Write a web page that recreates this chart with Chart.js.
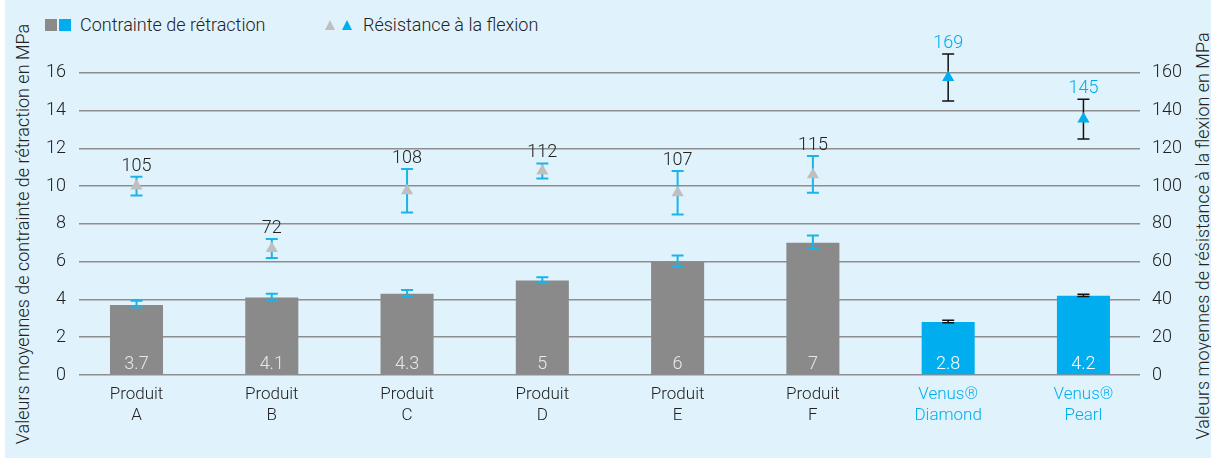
<!DOCTYPE html>
<html>
<head>
<meta charset="utf-8">
<script src="https://cdn.jsdelivr.net/npm/chart.js@4/dist/chart.umd.min.js"></script>
<style>
  html, body { margin: 0; padding: 0; background: #fff; }
  #wrap { position: relative; width: 1211px; height: 462px; overflow: hidden;
          font-family: Roboto, "Liberation Sans", sans-serif; font-weight: 300; color: #222; }
  #panel { position: absolute; left: 5px; top: 0; width: 1206px; height: 458px; background: #e0f2fb; }
  #chart { position: absolute; left: 0; top: 0; }
  .lg { position: absolute; font-size: 18px; line-height: 20px; top: 15px; white-space: nowrap; }
  .sq { position: absolute; width: 12px; height: 12px; top: 19px; }
  .tri { position: absolute; top: 20px; width: 0; height: 0;
         border-left: 5px solid transparent; border-right: 5px solid transparent; border-bottom: 10px solid; }
  .ytitle { position: absolute; font-size: 18px; white-space: nowrap;
            transform: translate(-50%, -50%) rotate(-90deg); }
</style>
</head>
<body>
<div id="wrap">
  <div id="panel"></div>
  <span class="sq" style="left:45px;background:#8a8a8a"></span>
  <span class="sq" style="left:59px;background:#00aeef"></span>
  <span class="lg" style="left:80px">Contrainte de rétraction</span>
  <span class="tri" style="left:325px;border-bottom-color:#bfbfbf"></span>
  <span class="tri" style="left:342px;border-bottom-color:#00aeef"></span>
  <span class="lg" style="left:363px">Résistance à la flexion</span>
  <div class="ytitle" style="left:22px;top:234px">Valeurs moyennes de contrainte de rétraction en MPa</div>
  <div class="ytitle" style="left:1202px;top:236px">Valeurs moyennes de résistance à la flexion en MPa</div>
  <canvas id="chart" width="1211" height="462"></canvas>
</div>
<script>
// data
const categories = [['Produit', 'A'], ['Produit', 'B'], ['Produit', 'C'], ['Produit', 'D'],
                    ['Produit', 'E'], ['Produit', 'F'], ['Venus®', 'Diamond'], ['Venus®', 'Pearl']];
const shrinkage = [3.7, 4.1, 4.3, 5, 6, 7, 2.8, 4.2];
const shrinkageLow = [3.57, 3.95, 4.18, 4.87, 5.72, 6.68, 2.76, 4.15];
const shrinkageHigh = [3.93, 4.3, 4.5, 5.17, 6.32, 7.38, 2.9, 4.28];
const flexural = [100, 67, 97.5, 108, 96.5, 106, 157.5, 135.5];
const flexuralLow = [95, 62, 86, 104, 85, 96.5, 145, 125];
const flexuralHigh = [105, 72, 109, 112, 108, 116, 170, 146];
const flexuralLabels = ['105', '72', '108', '112', '107', '115', '169', '145'];
const leftTicks = [0, 2, 4, 6, 8, 10, 12, 14, 16];
const rightTicks = [0, 20, 40, 60, 80, 100, 120, 140, 160];

const GREY = '#8a8a8a';
const CYAN = '#00aeef';
const LIGHT = '#bfbfbf';
const INK = '#222222';
const isVenus = i => i >= 6;

Chart.defaults.font.family = 'Roboto, "Liberation Sans", sans-serif';
Chart.defaults.font.weight = '300';
Chart.defaults.font.size = 18;
Chart.defaults.color = INK;

function drawErr(ctx, x, yTop, yBot, color, cap, lw) {
    ctx.save();
    ctx.strokeStyle = color;
    ctx.lineWidth = lw;
    ctx.beginPath();
    ctx.moveTo(x, yTop); ctx.lineTo(x, yBot);
    ctx.moveTo(x - cap / 2, yTop); ctx.lineTo(x + cap / 2, yTop);
    ctx.moveTo(x - cap / 2, yBot); ctx.lineTo(x + cap / 2, yBot);
    ctx.stroke();
    ctx.restore();
}

const errorBars = {
    id: 'errorBars',
    afterDatasetDraw(chart, args) {
        if (args.index !== 0) return;
        const y = chart.scales.y, ctx = chart.ctx;
        args.meta.data.forEach((bar, i) => {
            drawErr(ctx, bar.x, y.getPixelForValue(shrinkageHigh[i]), y.getPixelForValue(shrinkageLow[i]),
                isVenus(i) ? '#111' : '#1ab4ea', 12, isVenus(i) ? 1.5 : 2);
        });
    },
    beforeDatasetDraw(chart, args) {
        if (args.index !== 1) return;
        const y2 = chart.scales.y2, ctx = chart.ctx;
        args.meta.data.forEach((pt, i) => {
            drawErr(ctx, pt.x, y2.getPixelForValue(flexuralHigh[i]), y2.getPixelForValue(flexuralLow[i]),
                isVenus(i) ? '#111' : '#1ab4ea', 12, isVenus(i) ? 1.5 : 2);
        });
    },
    afterDatasetsDraw(chart) {
        const ctx = chart.ctx, y = chart.scales.y, y2 = chart.scales.y2;
        ctx.save();
        ctx.textAlign = 'center';
        ctx.textBaseline = 'alphabetic';
        ctx.font = '300 18px Roboto, "Liberation Sans", sans-serif';
        chart.getDatasetMeta(0).data.forEach((bar, i) => {
            ctx.fillStyle = isVenus(i) ? '#ffffff' : '#e8e8e8';
            ctx.fillText(String(shrinkage[i]), bar.x, y.getPixelForValue(0) - 6);
        });
        chart.getDatasetMeta(1).data.forEach((pt, i) => {
            ctx.fillStyle = isVenus(i) ? CYAN : INK;
            ctx.fillText(flexuralLabels[i], pt.x, y2.getPixelForValue(flexuralHigh[i]) - 6);
        });
        ctx.restore();
    }
};

new Chart(document.getElementById('chart'), {
    data: {
        datasets: [{
            type: 'bar',
            label: 'Contrainte de rétraction',
            data: shrinkage.map((v, i) => ({ x: i, y: v })),
            backgroundColor: shrinkage.map((v, i) => isVenus(i) ? CYAN : GREY),
            categoryPercentage: 1,
            barPercentage: 0.392,
            yAxisID: 'y',
            order: 1
        }, {
            type: 'line',
            label: 'Résistance à la flexion',
            data: flexural.map((v, i) => ({ x: i, y: v })),
            showLine: false,
            pointStyle: 'triangle',
            pointRadius: 7,
            pointBorderWidth: 0,
            pointBackgroundColor: flexural.map((v, i) => isVenus(i) ? CYAN : LIGHT),
            pointBorderColor: flexural.map((v, i) => isVenus(i) ? CYAN : LIGHT),
            yAxisID: 'y2',
            order: 0
        }]
    },
    options: {
        responsive: false,
        animation: false,
        layout: { padding: { top: 35, left: 0, right: 0, bottom: 0 } },
        plugins: { legend: { display: false }, tooltip: { enabled: false } },
        scales: {
            x: {
                type: 'linear',
                offset: false,
                min: -0.425,
                max: 7.418,
                grid: { display: false, offset: false },
                border: { display: false },
                afterBuildTicks: s => { s.ticks = categories.map((c, i) => ({ value: i })); },
                afterFit: s => { s.height = 87; },
                ticks: {
                    autoSkip: false,
                    maxRotation: 0,
                    padding: 1,
                    font: { size: 17, lineHeight: 1.25 },
                    color: c => isVenus(c.index) ? CYAN : INK,
                    callback: v => categories[v]
                }
            },
            y: {
                position: 'left',
                min: 0,
                max: 18,
                afterBuildTicks: s => { s.ticks = leftTicks.map(v => ({ value: v })); },
                afterFit: s => { s.width = 79; },
                border: { display: false },
                grid: { color: '#8e8e8e', lineWidth: 1.5, drawTicks: false },
                ticks: { padding: 13, color: INK }
            },
            y2: {
                position: 'right',
                min: 0,
                max: 180,
                afterBuildTicks: s => { s.ticks = rightTicks.map(v => ({ value: v })); },
                afterFit: s => { s.width = 71; },
                border: { display: false },
                grid: { display: false, drawTicks: false },
                ticks: { padding: 12, color: INK }
            }
        }
    },
    plugins: [errorBars]
});
</script>
</body>
</html>
